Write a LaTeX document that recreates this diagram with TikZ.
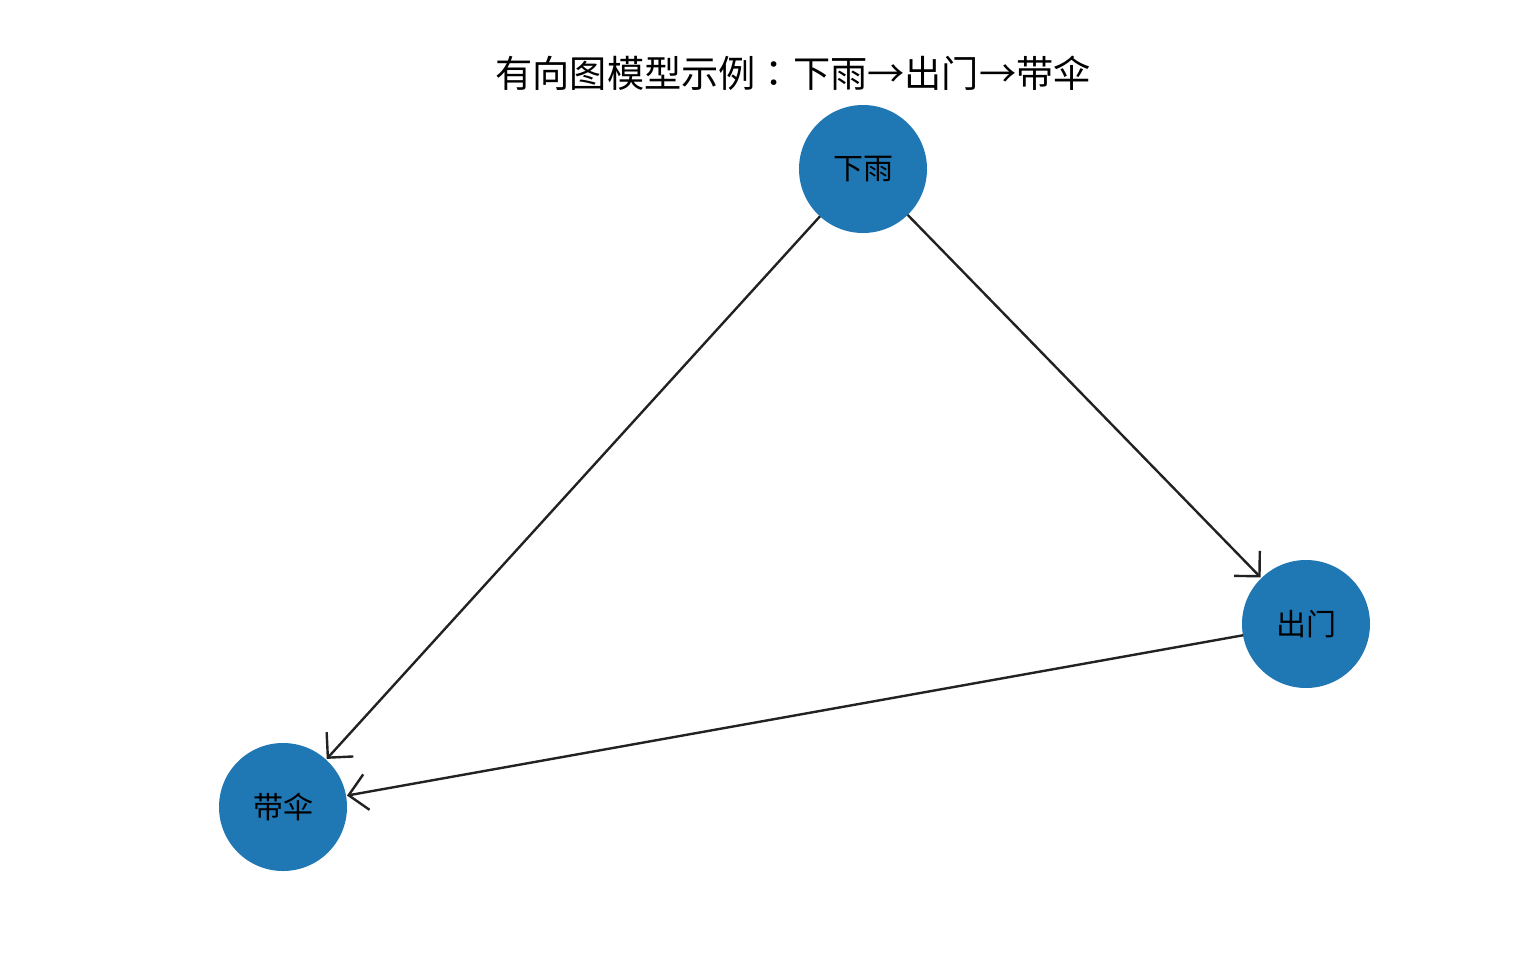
\documentclass[tikz,border=0pt]{standalone}
\usepackage{fontspec}
\newfontfamily\cjk{Noto Sans CJK SC}
\newfontfamily\cjktc{Noto Sans CJK TC}
\usetikzlibrary{arrows.meta}
\definecolor{nodeblue}{HTML}{1F77B4}
\definecolor{edgegray}{HTML}{222222}
\tikzset{
  gnode/.style={circle, fill=nodeblue, draw=none, minimum size=64pt, inner sep=0pt, outer sep=0pt, font=\cjk\fontsize{15}{16}\selectfont, text=black},
  gedge/.style={draw=edgegray, line width=1.2pt, -{Straight Barb[length=9pt, width=18pt, line width=1.2pt]}, shorten >=0.5pt}
}
\begin{document}
\begin{tikzpicture}[x=0.5pt, y=-0.5pt]
\useasboundingbox (0,0) rectangle (1522,976);
\node[font=\cjk\fontsize{18.6}{20}\selectfont] (title) at (793,73) {有向图模型示例{\cjktc ：}下雨→出门→带伞};
\node[gnode] (rain) at (863,169) {下雨};
\node[gnode] (out) at (1306,624) {出门};
\node[gnode] (umb) at (283,807) {带伞};
\draw[gedge] (rain) -- (out);
\draw[gedge] (rain) -- (umb);
\draw[gedge] (out) -- (umb);
\end{tikzpicture}
\end{document}
